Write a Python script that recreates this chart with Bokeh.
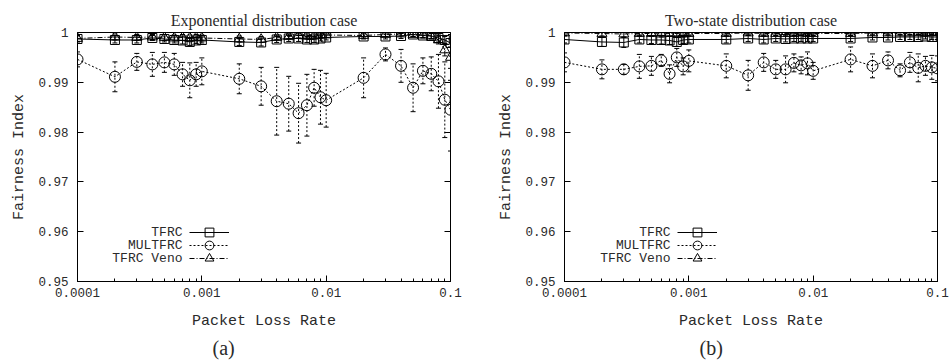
from bokeh.plotting import figure
from bokeh.models import (ColumnDataSource, FixedTicker, CustomJSTickFormatter, LinearAxis,
                          Legend, LegendItem, Title, Range1d, Label)
from bokeh.layouts import row
from bokeh.embed import file_html
from bokeh.resources import INLINE

# ---------------- data ----------------
loss_rate = [0.0001, 0.0002, 0.0003, 0.0004, 0.0005, 0.0006, 0.0007, 0.0008, 0.0009,
             0.001, 0.002, 0.003, 0.004, 0.005, 0.006, 0.007, 0.008, 0.009,
             0.01, 0.02, 0.03, 0.04, 0.05, 0.06, 0.07, 0.08, 0.09, 0.1]

x_major_ticks = [0.0001, 0.001, 0.01, 0.1]
x_minor_ticks = [0.0002, 0.0003, 0.0004, 0.0005, 0.0006, 0.0007, 0.0008, 0.0009,
                 0.002, 0.003, 0.004, 0.005, 0.006, 0.007, 0.008, 0.009,
                 0.02, 0.03, 0.04, 0.05, 0.06, 0.07, 0.08, 0.09]
y_ticks = [0.95, 0.96, 0.97, 0.98, 0.99, 1.0]

series_names = ["TFRC", "MULTFRC", "TFRC Veno"]
panel_titles = ["Exponential distribution case", "Two-state distribution case"]
panel_tags = ["(a)", "(b)"]

# (a) exponential distribution case
exp_tfrc = [0.9987, 0.9985, 0.9985, 0.9989, 0.9987, 0.9985, 0.9984, 0.9981, 0.9984,
            0.9985, 0.9981, 0.9980, 0.9986, 0.9988, 0.9988, 0.9986, 0.9986, 0.9988,
            0.9990, 0.9992, 0.9992, 0.9993, 0.9996, 0.9994, 0.9993, 0.9989, 0.9985, 0.9979]
exp_tfrc_err = [0.0006, 0.0006, 0.0006, 0.0005, 0.0006, 0.0006, 0.0007, 0.0007, 0.0006,
                0.0006, 0.0007, 0.0007, 0.0006, 0.0006, 0.0006, 0.0006, 0.0006, 0.0005,
                0.0005, 0.0005, 0.0005, 0.0005, 0.0004, 0.0005, 0.0005, 0.0006, 0.0007, 0.0008]
exp_mult = [0.9946, 0.9911, 0.9941, 0.9936, 0.9940, 0.9936, 0.9916, 0.9904, 0.9916,
            0.9922, 0.9907, 0.9892, 0.9862, 0.9857, 0.9838, 0.9854, 0.9889, 0.9870,
            0.9864, 0.9909, 0.9956, 0.9933, 0.9889, 0.9923, 0.9917, 0.9902, 0.9865, 0.9845]
exp_mult_err = [0.0015, 0.0030, 0.0017, 0.0024, 0.0020, 0.0022, 0.0024, 0.0035, 0.0024,
                0.0027, 0.0030, 0.0038, 0.0068, 0.0055, 0.0060, 0.0062, 0.0037, 0.0054,
                0.0054, 0.0040, 0.0013, 0.0033, 0.0048, 0.0026, 0.0034, 0.0054, 0.0076, 0.0083]
exp_veno = [0.9988, 0.9991, 0.9990, 0.9991, 0.9990, 0.9989, 0.9990, 0.9989, 0.9990,
            0.9989, 0.9987, 0.9986, 0.9990, 0.9992, 0.9994, 0.9994, 0.9994, 0.9995,
            0.9995, 0.9994, 0.9996, 0.9997, 0.9996, 0.9995, 0.9993, 0.9985, 0.9965, 0.9950]
exp_veno_err = [0.0006, 0.0006, 0.0006, 0.0005, 0.0006, 0.0006, 0.0006, 0.0006, 0.0006,
                0.0006, 0.0006, 0.0006, 0.0005, 0.0005, 0.0005, 0.0005, 0.0005, 0.0005,
                0.0005, 0.0005, 0.0004, 0.0004, 0.0004, 0.0005, 0.0006, 0.0008, 0.0012, 0.0046]

# (b) two-state distribution case
ts_tfrc = [0.9986, 0.9981, 0.9980, 0.9986, 0.9985, 0.9985, 0.9984, 0.9981, 0.9985,
           0.9986, 0.9986, 0.9988, 0.9986, 0.9988, 0.9987, 0.9988, 0.9988, 0.9988,
           0.9988, 0.9988, 0.9990, 0.9990, 0.9991, 0.9991, 0.9991, 0.9992, 0.9991, 0.9991]
ts_tfrc_err = [0.0007, 0.0009, 0.0010, 0.0007, 0.0007, 0.0008, 0.0008, 0.0009, 0.0007,
               0.0007, 0.0007, 0.0006, 0.0007, 0.0006, 0.0006, 0.0006, 0.0006, 0.0006,
               0.0006, 0.0006, 0.0005, 0.0005, 0.0005, 0.0005, 0.0005, 0.0005, 0.0005, 0.0005]
ts_mult = [0.9940, 0.9926, 0.9926, 0.9932, 0.9933, 0.9944, 0.9917, 0.9950, 0.9932,
           0.9943, 0.9933, 0.9914, 0.9940, 0.9926, 0.9926, 0.9939, 0.9934, 0.9938,
           0.9923, 0.9946, 0.9933, 0.9944, 0.9924, 0.9940, 0.9929, 0.9933, 0.9930, 0.9928]
ts_mult_err = [0.0019, 0.0019, 0.0010, 0.0024, 0.0019, 0.0012, 0.0018, 0.0018, 0.0017,
               0.0022, 0.0024, 0.0030, 0.0018, 0.0018, 0.0027, 0.0018, 0.0017, 0.0023,
               0.0017, 0.0025, 0.0024, 0.0017, 0.0013, 0.0020, 0.0028, 0.0019, 0.0024, 0.0025]
ts_veno = [0.9999, 0.9998, 0.9997, 0.9998, 0.9998, 0.9997, 0.9998, 0.9998, 0.9997,
           0.9998, 0.9998, 0.9999, 0.9998, 0.9998, 0.9998, 0.9998, 0.9999, 0.9998,
           0.9998, 0.9998, 0.9999, 0.9999, 0.9999, 0.9999, 1.0000, 1.0000, 1.0000, 1.0000]
ts_veno_err = [0.0005, 0.0005, 0.0006, 0.0005, 0.0005, 0.0006, 0.0005, 0.0005, 0.0006,
               0.0005, 0.0005, 0.0004, 0.0005, 0.0005, 0.0005, 0.0005, 0.0004, 0.0005,
               0.0005, 0.0005, 0.0004, 0.0004, 0.0004, 0.0004, 0.0003, 0.0003, 0.0003, 0.0003]

# ---------------- styling ----------------
MONO = "Liberation Mono"
SERIF = "Liberation Serif"
TXT = "#2a2a2a"
STYLES = [("square", 9, "solid"), ("circle", 11, "2 2"), ("triangle", 10, "5 2 1 2")]
LEGEND_ROWS = [49, 36, 23]   # px above the frame bottom, one per legend entry


def style_axis(ax, show_labels=True):
    ax.major_tick_in = 6
    ax.major_tick_out = 0
    ax.minor_tick_in = 3
    ax.minor_tick_out = 0
    ax.major_tick_line_color = "black"
    ax.minor_tick_line_color = "black"
    ax.axis_line_color = "black"
    ax.major_label_text_font = MONO
    ax.major_label_text_color = TXT
    if show_labels:
        ax.major_label_text_font_size = "12.5px"
    else:
        ax.major_label_text_font_size = "1px"
        ax.formatter = CustomJSTickFormatter(code="return '';")


def add_series(p, ys, errs, marker, msize, dash):
    lo = [y - e for y, e in zip(ys, errs)]
    hi = [y + e for y, e in zip(ys, errs)]
    src = ColumnDataSource(dict(x=loss_rate, y=ys, lo=lo, hi=hi))
    p.segment(x0="x", y0="lo", x1="x", y1="hi", source=src,
              line_color="black", line_width=1, line_dash=dash)
    p.scatter(x="x", y="lo", marker="dash", size=5, line_color="black", source=src)
    p.scatter(x="x", y="hi", marker="dash", size=5, line_color="black", source=src)
    ln = p.line(x="x", y="y", source=src, line_color="black", line_width=1, line_dash=dash)
    sc = p.scatter(x="x", y="y", marker=marker, size=msize, source=src,
                   line_color="black", line_width=1, fill_alpha=0)
    return ln, sc


def make_panel(title, tag, data, left_border, right_border, legend_x):
    p = figure(frame_width=373, frame_height=249,
               min_border_left=left_border, min_border_right=right_border,
               min_border_top=32, min_border_bottom=82,
               x_axis_type="log", x_range=Range1d(0.0001, 0.1), y_range=Range1d(0.95, 1.0),
               output_backend="svg", toolbar_location=None)
    p.grid.visible = False
    p.outline_line_color = "black"
    p.outline_line_alpha = 1
    p.background_fill_color = "white"
    p.border_fill_color = "white"

    p.title.text = title
    p.title.align = "center"
    p.title.vertical_align = "top"
    p.title.text_font = SERIF
    p.title.text_font_style = "normal"
    p.title.text_font_size = "16px"
    p.title.text_color = TXT
    p.title.standoff = 4

    xt = FixedTicker(ticks=x_major_ticks, minor_ticks=x_minor_ticks)
    yt = FixedTicker(ticks=y_ticks, minor_ticks=[])

    xa = p.xaxis[0]
    xa.ticker = xt
    xa.formatter = CustomJSTickFormatter(code="return tick.toString();")
    style_axis(xa)
    xa.major_label_standoff = 6
    xa.axis_label = "Packet Loss Rate"
    xa.axis_label_text_font = MONO
    xa.axis_label_text_font_size = "15px"
    xa.axis_label_text_font_style = "normal"
    xa.axis_label_text_color = TXT
    xa.axis_label_standoff = 13

    ya = p.yaxis[0]
    ya.ticker = yt
    ya.formatter = CustomJSTickFormatter(
        code="return Math.abs(tick - 1) < 1e-9 ? '1' : tick.toFixed(2);")
    style_axis(ya)
    ya.major_label_standoff = 9
    ya.axis_label = "Fairness Index"
    ya.axis_label_text_font = MONO
    ya.axis_label_text_font_size = "15px"
    ya.axis_label_text_font_style = "normal"
    ya.axis_label_text_color = TXT
    ya.axis_label_standoff = 7

    ra = LinearAxis(ticker=yt)
    style_axis(ra, show_labels=False)
    p.add_layout(ra, "right")

    for name, (ys, errs), (marker, msize, dash), ry in zip(series_names, data, STYLES, LEGEND_ROWS):
        ln, sc = add_series(p, ys, errs, marker, msize, dash)
        leg = Legend(items=[LegendItem(label=" ", renderers=[ln, sc])],
                     location=(legend_x, ry - 11), orientation="vertical",
                     glyph_width=40, glyph_height=22, label_height=22, spacing=0,
                     padding=0, margin=0, label_standoff=0, label_width=1,
                     label_text_font=MONO, label_text_font_size="13px",
                     border_line_alpha=0, background_fill_alpha=0)
        p.add_layout(leg, "center")
        p.add_layout(Label(x=legend_x - 7, y=ry, x_units="screen", y_units="screen",
                           text=name, text_align="right", text_baseline="middle",
                           text_font=MONO, text_font_size="13px", text_color=TXT))

    p.add_layout(Title(text=tag, align="left", offset=135, text_font=SERIF,
                       text_font_size="20px", text_font_style="normal",
                       text_color=TXT, standoff=4), "below")
    return p


p1 = make_panel(panel_titles[0], panel_tags[0],
                [(exp_tfrc, exp_tfrc_err), (exp_mult, exp_mult_err), (exp_veno, exp_veno_err)],
                77, 30, 112)
p2 = make_panel(panel_titles[1], panel_tags[1],
                [(ts_tfrc, ts_tfrc_err), (ts_mult, ts_mult_err), (ts_veno, ts_veno_err)],
                84, 15, 113)

layout = row(p1, p2)
open("out.html", "w").write(file_html(layout, INLINE))
